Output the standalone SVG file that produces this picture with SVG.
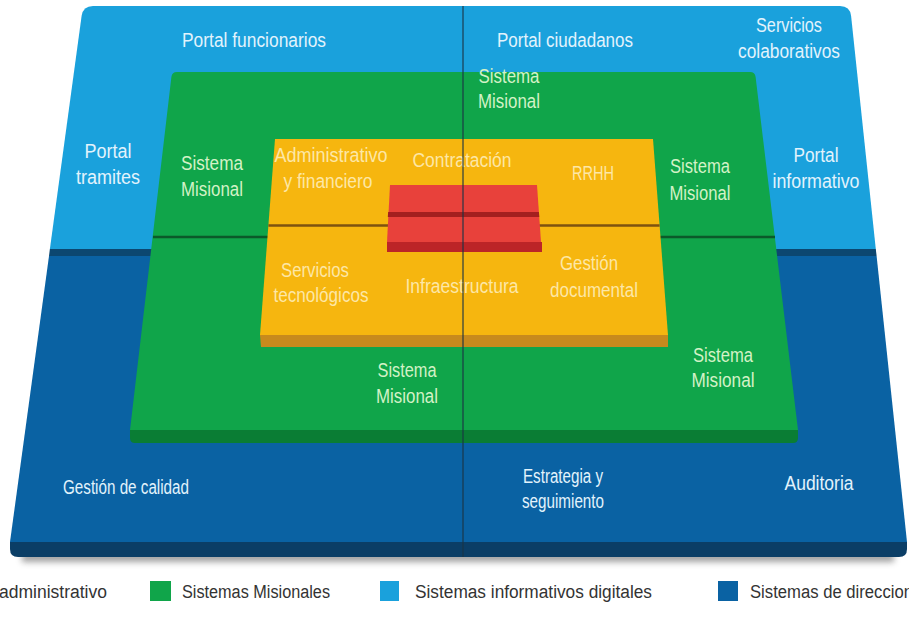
<svg xmlns="http://www.w3.org/2000/svg" width="909" height="629" viewBox="0 0 909 629">
<defs>
<style>
.t{font-family:"Liberation Sans",Arial,sans-serif;font-size:20px;text-anchor:middle}
.tb{fill:#e2f3fc}
.tg{fill:#d3f2c6}
.ty{fill:#fde7a6}
.lg{font-family:"Liberation Sans",Arial,sans-serif;font-size:18px;fill:#333}
.div{stroke-width:2.5;fill:none}
</style>
<filter id="sh" x="-5%" y="-100%" width="110%" height="300%"><feGaussianBlur stdDeviation="3"/></filter>
</defs>
<rect width="909" height="629" fill="#ffffff"/>

<g id="direccion">
<rect x="22" y="552" width="872" height="10" fill="#555" opacity="0.55" filter="url(#sh)"/>
<path d="M10,542 L907,542 L907,549 Q907,557 899,557 L18,557 Q10,557 10,549 Z" fill="#0b3e66"/>
<path d="M49,256 L876.6,256 L907,542 L10,542 Z" fill="#0a62a3"/>
<text class="t tb" x="126" y="494" textLength="126" lengthAdjust="spacingAndGlyphs">Gestión de calidad</text>
<text class="t tb" x="563" y="483" textLength="80" lengthAdjust="spacingAndGlyphs">Estrategia y</text>
<text class="t tb" x="563" y="508" textLength="82" lengthAdjust="spacingAndGlyphs">seguimiento</text>
<text class="t tb" x="819" y="490" textLength="69" lengthAdjust="spacingAndGlyphs">Auditoria</text>
</g>

<g id="informativos">
<path d="M93,6 L840,6 Q850,6 851.1,16 L875.8,249 L49.9,249 L81.6,16 Q83,6 93,6 Z" fill="#1aa1dc"/>
<path d="M49.9,249 L875.8,249 L876.6,256 L49,256 Z" fill="#0c4770"/>
<text class="t tb" x="254" y="47" textLength="144" lengthAdjust="spacingAndGlyphs">Portal funcionarios</text>
<text class="t tb" x="565" y="47" textLength="136" lengthAdjust="spacingAndGlyphs">Portal ciudadanos</text>
<text class="t tb" x="789" y="32" textLength="66" lengthAdjust="spacingAndGlyphs">Servicios</text>
<text class="t tb" x="789" y="58" textLength="102" lengthAdjust="spacingAndGlyphs">colaborativos</text>
<text class="t tb" x="108" y="158" textLength="47" lengthAdjust="spacingAndGlyphs">Portal</text>
<text class="t tb" x="108" y="184" textLength="64" lengthAdjust="spacingAndGlyphs">tramites</text>
<text class="t tb" x="816" y="162" textLength="45" lengthAdjust="spacingAndGlyphs">Portal</text>
<text class="t tb" x="816" y="188" textLength="87" lengthAdjust="spacingAndGlyphs">informativo</text>
</g>

<g id="misionales">
<path d="M130,430 L798,430 L798,438 Q798,443 793,443 L135,443 Q130,443 130,438 Z" fill="#0a7d34"/>
<path d="M177,72 L750,72 Q755,72 755.6,77 L798,430 L130,430 L171.4,77 Q172,72 177,72 Z" fill="#10a54a"/>
<line class="div" x1="153" y1="237" x2="775" y2="237" stroke="#0b5a2a"/>
<text class="t tg" x="212" y="170" textLength="62" lengthAdjust="spacingAndGlyphs">Sistema</text>
<text class="t tg" x="212" y="196" textLength="62" lengthAdjust="spacingAndGlyphs">Misional</text>
<text class="t tg" x="509" y="83" textLength="61" lengthAdjust="spacingAndGlyphs">Sistema</text>
<text class="t tg" x="509" y="108" textLength="62" lengthAdjust="spacingAndGlyphs">Misional</text>
<text class="t tg" x="700" y="173" textLength="60" lengthAdjust="spacingAndGlyphs">Sistema</text>
<text class="t tg" x="700" y="200" textLength="61" lengthAdjust="spacingAndGlyphs">Misional</text>
<text class="t tg" x="407" y="377" textLength="59" lengthAdjust="spacingAndGlyphs">Sistema</text>
<text class="t tg" x="407" y="403" textLength="62" lengthAdjust="spacingAndGlyphs">Misional</text>
<text class="t tg" x="723" y="362" textLength="60" lengthAdjust="spacingAndGlyphs">Sistema</text>
<text class="t tg" x="723" y="387" textLength="63" lengthAdjust="spacingAndGlyphs">Misional</text>
</g>

<g id="administrativo">
<path d="M260,335 L668,335 L668,347 L261,347 Z" fill="#c78a1d"/>
<path d="M275,139 L653,139 L668,335 L260,335 Z" fill="#f6b60f"/>
<line class="div" x1="268.4" y1="225.5" x2="659.6" y2="225.5" stroke="#7d5210"/>
<text class="t ty" x="331" y="162" textLength="113" lengthAdjust="spacingAndGlyphs">Administrativo</text>
<text class="t ty" x="328" y="188" textLength="89" lengthAdjust="spacingAndGlyphs">y financiero</text>
<text class="t ty" x="462" y="167" textLength="99" lengthAdjust="spacingAndGlyphs">Contratación</text>
<text class="t ty" x="593" y="180" textLength="42" lengthAdjust="spacingAndGlyphs">RRHH</text>
<text class="t ty" x="315" y="277" textLength="68" lengthAdjust="spacingAndGlyphs">Servicios</text>
<text class="t ty" x="321" y="302" textLength="95" lengthAdjust="spacingAndGlyphs">tecnológicos</text>
<text class="t ty" x="462" y="293" textLength="113" lengthAdjust="spacingAndGlyphs">Infraestructura</text>
<text class="t ty" x="589" y="270" textLength="58" lengthAdjust="spacingAndGlyphs">Gestión</text>
<text class="t ty" x="594" y="297" textLength="88" lengthAdjust="spacingAndGlyphs">documental</text>
</g>

<g id="nucleo">
<rect x="387" y="242" width="155" height="10" fill="#bc2427"/>
<path d="M390,185 L537,185 L541,242 L387,242 Z" fill="#e8413b"/>
<path d="M388.1,212 L538.9,212 L539.3,217 L387.8,217 Z" fill="#a31f1f"/>
</g>

<g id="connectors">
<line x1="463" y1="6" x2="463" y2="557" stroke="#1c3444" stroke-opacity="0.75" stroke-width="1.5"/>
</g>

<g id="leyenda">
<text class="lg" x="-1" y="598" textLength="108" lengthAdjust="spacingAndGlyphs">administrativo</text>
<rect x="150" y="581" width="21" height="20" fill="#10a54a"/>
<text class="lg" x="182" y="598" textLength="148" lengthAdjust="spacingAndGlyphs">Sistemas Misionales</text>
<rect x="380" y="581" width="19" height="20" fill="#1aa1dc"/>
<text class="lg" x="415" y="598" textLength="237" lengthAdjust="spacingAndGlyphs">Sistemas informativos digitales</text>
<rect x="718" y="581" width="20" height="20" fill="#0a62a3"/>
<text class="lg" x="750" y="598" textLength="163" lengthAdjust="spacingAndGlyphs">Sistemas de direccion</text>
</g>
</svg>
